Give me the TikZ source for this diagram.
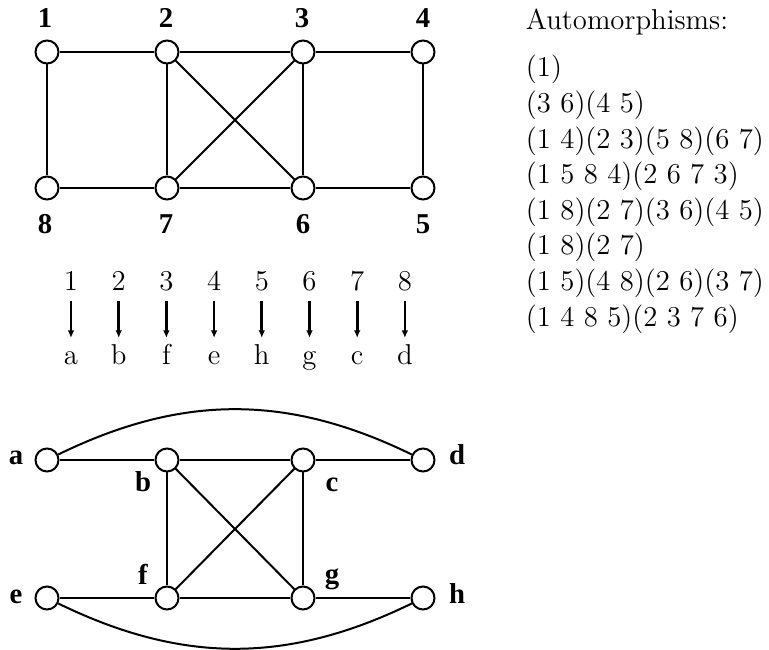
\documentclass[tikz,border=0pt]{standalone}
\usepackage{fontspec}
\newfontfamily\lblfont{Liberation Serif}
\usetikzlibrary{arrows.meta}

\begin{document}
\begin{tikzpicture}[x=0.4pt, y=0.4pt, line width=0.8pt,
  vtx/.style={circle, draw, fill=white, inner sep=0pt, minimum size=9.2pt},
  vlbl/.style={anchor=base, inner sep=0pt, font=\fontsize{11.5}{14}\lblfont\bfseries},
  txt/.style={anchor=base, inner sep=0pt, font=\fontsize{11.5}{14.24}\selectfont},
  maparrow/.style={-{Latex[length=3pt, width=2.6pt]}, line width=1.05pt}]

\useasboundingbox (0,0) rectangle (769,-650);

% =========== TOP: graph on 1..8 ===========
\node[vtx] (v1) at (47,-52) {};
\node[vtx] (v2) at (167,-52) {};
\node[vtx] (v3) at (303,-52) {};
\node[vtx] (v4) at (423,-52) {};
\node[vtx] (v8) at (47,-188) {};
\node[vtx] (v7) at (167,-188) {};
\node[vtx] (v6) at (303,-188) {};
\node[vtx] (v5) at (423,-188) {};

\draw (v1) -- (v2) -- (v3) -- (v4) -- (v5) -- (v6) -- (v7) -- (v8) -- (v1);
\draw (v2) -- (v7);
\draw (v3) -- (v6);
\draw (v2) -- (v6);
\draw (v3) -- (v7);

% vertex numbers
\node[vlbl] (n1) at (45,-28) {1};
\node[vlbl] (n2) at (166,-28) {2};
\node[vlbl] (n3) at (302,-28) {3};
\node[vlbl] (n4) at (423,-28) {4};
\node[vlbl] (n8) at (45,-234) {8};
\node[vlbl] (n7) at (166,-234) {7};
\node[vlbl] (n6) at (303,-234) {6};
\node[vlbl] (n5) at (423,-234) {5};

% =========== MIDDLE: the mapping ===========
\foreach \src/\dst [count=\i] in {1/a,2/b,3/f,4/e,5/h,6/g,7/c,8/d} {
  \node[txt, text depth=3.6pt] (src\i) at ({71+47.7*(\i-1)},-291) {\src};
  \node[txt, text height=10.4pt] (dst\i) at ({71+47.7*(\i-1)},-365) {\dst};
  \draw[maparrow] (src\i) -- (dst\i);
}

% =========== BOTTOM: graph on a..h ===========
\node[vtx] (va) at (47,-460) {};
\node[vtx] (vb) at (167,-460) {};
\node[vtx] (vc) at (303,-460) {};
\node[vtx] (vd) at (423,-460) {};
\node[vtx] (ve) at (47,-598) {};
\node[vtx] (vf) at (167,-598) {};
\node[vtx] (vg) at (303,-598) {};
\node[vtx] (vh) at (423,-598) {};

\draw (va) -- (vb) -- (vc) -- (vd);
\draw (ve) -- (vf) -- (vg) -- (vh);
\draw (vb) -- (vf);
\draw (vc) -- (vg);
\draw (vb) -- (vg);
\draw (vc) -- (vf);
\draw (va) to[bend left=26] (vd);
\draw (ve) to[bend right=26] (vh);

% vertex letters
\node[vlbl] (na) at (16,-465) {a};
\node[vlbl] (nd) at (457,-465) {d};
\node[vlbl] (nb) at (143,-492) {b};
\node[vlbl] (nc) at (332,-492) {c};
\node[vlbl] (nf) at (143,-585) {f};
\node[vlbl] (ng) at (332,-584) {g};
\node[vlbl] (ne) at (16,-604) {e};
\node[vlbl] (nh) at (457,-604) {h};

% =========== RIGHT: list of automorphisms ===========
\node[txt, anchor=base west] (auttitle) at (525,-30) {Automorphisms:};
\foreach \p [count=\i] in {{(1)}, {(3 6)(4 5)}, {(1 4)(2 3)(5 8)(6 7)},
    {(1 5 8 4)(2 6 7 3)}, {(1 8)(2 7)(3 6)(4 5)}, {(1 8)(2 7)},
    {(1 5)(4 8)(2 6)(3 7)}, {(1 4 8 5)(2 3 7 6)}} {
  \node[txt, anchor=base west] (perm\i) at (525,{-77-35.6*(\i-1)}) {\p};
}

\end{tikzpicture}
\end{document}
